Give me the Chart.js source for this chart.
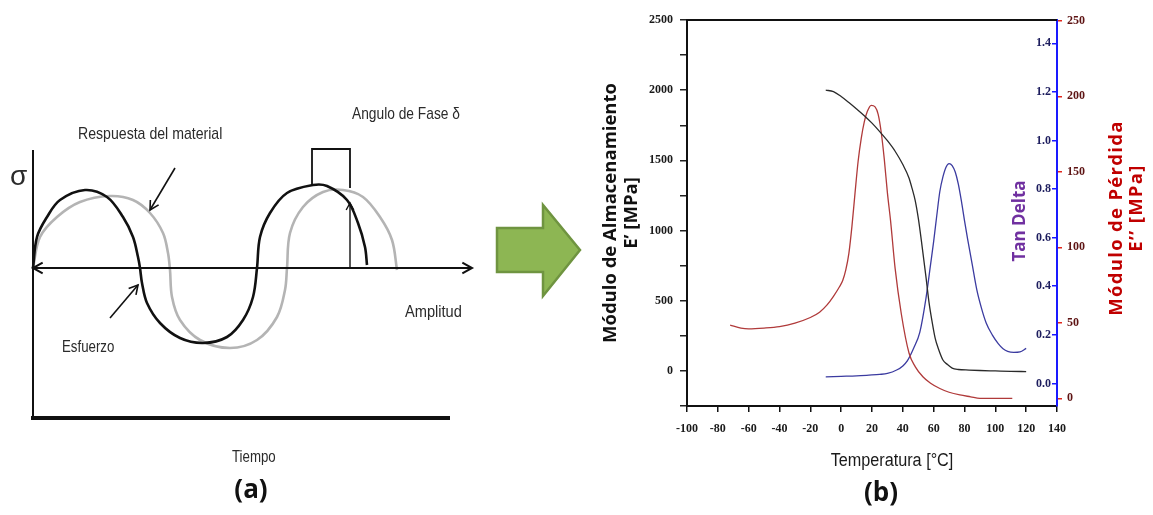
<!DOCTYPE html>
<html lang="es">
<head>
<meta charset="utf-8">
<title>Esfuerzo y DMA</title>
<script src="https://cdn.jsdelivr.net/npm/chart.js@4.4.1/dist/chart.umd.min.js"></script>
<style>
  html, body { margin: 0; padding: 0; background: #fff; }
  body { width: 1153px; height: 515px; position: relative; overflow: hidden; }
  .panel { position: absolute; top: 0; height: 515px; }
  #panelA { left: 0; width: 590px; }
  #panelB { left: 590px; width: 563px; }
</style>
</head>
<body>
<div class="panel" id="panelA"><canvas id="waveChart"></canvas></div>
<div class="panel" id="panelB"><canvas id="dmaChart"></canvas></div>
<script>
// (a) esquema: esfuerzo aplicado y respuesta del material (unidades arbitrarias)
const stressTime = [0, 0.4, 1.4, 2.7, 5.2, 7.4, 9.0, 10.0, 10.5, 10.7, 10.9, 11.4, 12.7, 14.7, 17.0, 19.4, 21.0, 22.0, 22.4, 22.7, 23.7, 25.4, 28.0, 29.4, 31.4, 32.5, 33.2, 33.4];
const stressAmp = [0, 3.1, 5.1, 6.8, 7.8, 7.1, 5.1, 3.1, 1.1, 0, -1.5, -3.5, -5.5, -7.0, -7.5, -6.9, -5.2, -2.9, 0, 3.1, 5.5, 7.5, 8.3, 8.2, 6.8, 4.5, 2.1, 0.3];
const responseTime = [0, 0.7, 2.4, 4.7, 7.7, 10.0, 11.7, 13.0, 13.5, 13.7, 13.9, 14.7, 16.7, 19.7, 22.4, 24.4, 25.2, 25.4, 25.7, 27.0, 29.0, 31.0, 33.0, 34.7, 35.9, 36.4];
const responseAmp = [0, 3.1, 5.1, 6.6, 7.2, 6.8, 5.5, 3.5, 1.5, -0.2, -2.9, -5.2, -7.2, -8.0, -7.2, -4.9, -2.2, 0, 3.5, 6.1, 7.6, 7.8, 7.1, 5.1, 2.8, -0.2];

// (b) DMA: modulo de almacenamiento, modulo de perdida y tan delta vs temperatura
const tempStorage = [-10, -5, 0, 5, 10, 15, 20, 25, 30, 35, 40, 44, 46, 48, 50, 52, 55, 57, 59, 61, 63, 66, 69, 72, 76, 83, 90, 100, 110, 120];
const storageModulus = [2000, 1990, 1955, 1912, 1866, 1818, 1765, 1705, 1640, 1565, 1470, 1375, 1300, 1215, 1090, 930, 670, 487, 350, 232, 160, 78, 45, 20, 10, 6, 3, 0, -3, -5];
const tempLoss = [-72, -65, -60, -50, -40, -30, -20, -14, -9, -5, -1, 1, 3, 5, 7, 9, 11, 13, 15, 17, 19.5, 22, 24, 26, 28, 30, 32, 35, 39, 44, 48, 53, 58, 64, 70, 77, 84, 90, 100, 111];
const lossModulus = [48.5, 46.5, 46, 46.5, 47.5, 49.8, 53.5, 57, 62, 67.5, 74, 78, 85, 96, 114, 136, 157, 172, 183, 190, 194, 193, 188, 176, 158, 136, 118, 86, 56, 30, 21, 14.3, 10, 6.5, 4, 2.2, 1, 0, 0, 0];
const tempTan = [-10, 0, 10, 18, 25, 30, 36, 40, 43, 47, 51, 55, 58, 60, 62, 64, 66, 68, 70, 72, 74, 76, 78, 80, 82, 85, 88, 91, 94, 98, 102, 105, 108, 112, 116, 120];
const tanDelta = [0.027, 0.029, 0.031, 0.034, 0.037, 0.041, 0.055, 0.072, 0.094, 0.145, 0.21, 0.35, 0.49, 0.585, 0.69, 0.79, 0.85, 0.89, 0.905, 0.897, 0.87, 0.82, 0.75, 0.67, 0.595, 0.49, 0.385, 0.31, 0.25, 0.2, 0.163, 0.143, 0.132, 0.128, 0.13, 0.144];

// ticks
const tempTicks = [-100, -80, -60, -40, -20, 0, 20, 40, 60, 80, 100, 120, 140];
const storageTicks = [0, 500, 1000, 1500, 2000, 2500];
const storageMinorTicks = [-250, 250, 750, 1250, 1750, 2250];
const tanTicks = [0.0, 0.2, 0.4, 0.6, 0.8, 1.0, 1.2, 1.4];
const lossTicks = [0, 50, 100, 150, 200, 250];

const zip = (xs, ys) => xs.map((x, i) => ({ x: x, y: ys[i] }));

const sansFont = '"Liberation Sans", sans-serif';
const serifFont = '"Liberation Serif", "Times New Roman", serif';
const boldSans = '"Open Sans", "Liberation Sans", sans-serif';

function line(ctx, x1, y1, x2, y2) {
    ctx.beginPath();
    ctx.moveTo(x1, y1);
    ctx.lineTo(x2, y2);
    ctx.stroke();
}

function arrowHead(ctx, x1, y1, x2, y2, size) {
    const ang = Math.atan2(y2 - y1, x2 - x1);
    ctx.beginPath();
    ctx.moveTo(x2 - size * Math.cos(ang - 0.5), y2 - size * Math.sin(ang - 0.5));
    ctx.lineTo(x2, y2);
    ctx.lineTo(x2 - size * Math.cos(ang + 0.5), y2 - size * Math.sin(ang + 0.5));
    ctx.stroke();
}

// narrow text (Calibri-like look) by squeezing a regular sans horizontally
function narrowText(ctx, text, x, y, sx) {
    ctx.save();
    ctx.translate(x, y);
    ctx.scale(sx, 1);
    ctx.fillText(text, 0, 0);
    ctx.restore();
}

function vText(ctx, text, x, y, color, font, spacing) {
    ctx.save();
    ctx.translate(x, y);
    ctx.rotate(-Math.PI / 2);
    ctx.font = font;
    if (spacing) ctx.letterSpacing = spacing;
    ctx.fillStyle = color;
    ctx.textAlign = 'center';
    ctx.textBaseline = 'middle';
    ctx.fillText(text, 0, 0);
    ctx.restore();
}

// Extras for panel (a): axes, arrows, phase bracket, labels, green arrow
const schemePlugin = {
    id: 'scheme',
    afterDatasetsDraw(chart) {
        const ctx = chart.ctx;
        const px = t => chart.scales.x.getPixelForValue(t);
        const py = a => chart.scales.y.getPixelForValue(a);
        ctx.save();
        ctx.strokeStyle = '#111';
        ctx.lineWidth = 2;
        line(ctx, px(0), py(11.8), px(0), py(-15.0));
        ctx.lineWidth = 4;
        line(ctx, px(-0.2), py(-15.0), px(41.7), py(-15.0));

        // amplitude axis, arrow on both ends
        ctx.lineWidth = 2;
        line(ctx, px(0), py(0), px(43.9), py(0));
        arrowHead(ctx, px(5), py(0), px(0), py(0), 11);
        arrowHead(ctx, px(40), py(0), px(43.9), py(0), 11);

        // pointers to the curves
        ctx.lineWidth = 1.6;
        line(ctx, px(14.2), py(10.0), px(11.7), py(5.8));
        arrowHead(ctx, px(14.2), py(10.0), px(11.7), py(5.8), 10);
        line(ctx, px(7.7), py(-5.0), px(10.5), py(-1.7));
        arrowHead(ctx, px(7.7), py(-5.0), px(10.5), py(-1.7), 10);

        // phase angle bracket
        ctx.lineWidth = 1.8;
        ctx.beginPath();
        ctx.moveTo(px(27.9), py(8.2));
        ctx.lineTo(px(27.9), py(11.9));
        ctx.lineTo(px(31.7), py(11.9));
        ctx.lineTo(px(31.7), py(8.0));
        ctx.stroke();
        ctx.lineWidth = 1.4;
        line(ctx, px(31.7), py(0), px(31.7), py(6.5));
        arrowHead(ctx, px(31.7), py(0), px(31.7), py(6.5), 8);

        // labels
        ctx.fillStyle = '#2b2b2b';
        ctx.textBaseline = 'middle';
        ctx.textAlign = 'left';
        ctx.font = '28px ' + sansFont;
        ctx.fillText('σ', 10, 177);
        ctx.font = '17px ' + sansFont;
        narrowText(ctx, 'Respuesta del material', 78, 134, 0.83);
        narrowText(ctx, 'Angulo de Fase δ', 352, 114, 0.81);
        narrowText(ctx, 'Amplitud', 405, 312, 0.86);
        narrowText(ctx, 'Esfuerzo', 62, 347, 0.78);
        narrowText(ctx, 'Tiempo', 232, 457, 0.78);
        ctx.textAlign = 'center';
        ctx.fillStyle = '#111';
        ctx.font = 'bold 26px ' + boldSans;
        ctx.fillText('(a)', 251, 491);

        // green arrow between panels
        ctx.beginPath();
        ctx.moveTo(497, 228);
        ctx.lineTo(543, 228);
        ctx.lineTo(543, 205);
        ctx.lineTo(580, 250);
        ctx.lineTo(543, 296);
        ctx.lineTo(543, 272);
        ctx.lineTo(497, 272);
        ctx.closePath();
        ctx.fillStyle = '#8db653';
        ctx.fill();
        ctx.strokeStyle = '#6f9440';
        ctx.lineWidth = 2.5;
        ctx.lineJoin = 'miter';
        ctx.stroke();
        ctx.restore();
    }
};

new Chart(document.getElementById('waveChart'), {
    type: 'scatter',
    data: {
        datasets: [{
            label: 'Esfuerzo',
            data: zip(stressTime, stressAmp),
            showLine: true,
            borderColor: '#111',
            borderWidth: 2.6,
            pointRadius: 0,
            tension: 0.35
        }, {
            label: 'Respuesta del material',
            data: zip(responseTime, responseAmp),
            showLine: true,
            borderColor: '#b4b4b4',
            borderWidth: 2.6,
            pointRadius: 0,
            tension: 0.35
        }]
    },
    options: {
        responsive: true,
        maintainAspectRatio: false,
        animation: false,
        layout: { padding: 0 },
        plugins: { legend: { display: false }, tooltip: { enabled: false } },
        scales: {
            x: { type: 'linear', display: false, min: -3.3, max: 55.7 },
            y: { display: false, min: -24.7, max: 26.8 }
        }
    },
    plugins: [schemePlugin]
});

// Extras for panel (b): top frame line, titles, panel label
const dmaPlugin = {
    id: 'dmaExtras',
    afterDraw(chart) {
        const ctx = chart.ctx;
        const area = chart.chartArea;
        ctx.save();
        ctx.strokeStyle = '#111';
        ctx.lineWidth = 2;
        line(ctx, area.left, area.top, area.right, area.top);
        vText(ctx, 'Tan Delta', area.right - 37, 221, '#7030a0', 'bold 17px ' + boldSans);
        vText(ctx, 'Módulo de Pérdida', area.right + 60, 218, '#c00000', 'bold 18.5px ' + boldSans, '1.3px');
        vText(ctx, 'E’’ [MPa]', area.right + 80, 208, '#c00000', 'bold 18.5px ' + boldSans, '1.3px');
        ctx.fillStyle = '#1a1a1a';
        ctx.textAlign = 'center';
        ctx.textBaseline = 'middle';
        ctx.font = '18px ' + sansFont;
        ctx.save();
        ctx.translate(302, 461);
        ctx.scale(0.9, 1);
        ctx.fillText('Temperatura [°C]', 0, 0);
        ctx.restore();
        ctx.fillStyle = '#111';
        ctx.font = 'bold 26px ' + boldSans;
        ctx.fillText('(b)', 291, 494);
        ctx.restore();
    }
};

const tickFont = { family: serifFont, weight: 'bold', size: 12 };

new Chart(document.getElementById('dmaChart'), {
    type: 'line',
    data: {
        datasets: [{
            label: 'E’',
            data: zip(tempStorage, storageModulus),
            yAxisID: 'y',
            borderColor: '#2a2a2a',
            borderWidth: 1.3,
            pointRadius: 0,
            cubicInterpolationMode: 'monotone'
        }, {
            label: 'E’’',
            data: zip(tempLoss, lossModulus),
            yAxisID: 'yLoss',
            borderColor: '#b03a3a',
            borderWidth: 1.3,
            pointRadius: 0,
            cubicInterpolationMode: 'monotone'
        }, {
            label: 'Tan Delta',
            data: zip(tempTan, tanDelta),
            yAxisID: 'yTan',
            borderColor: '#3b3ba0',
            borderWidth: 1.3,
            pointRadius: 0,
            cubicInterpolationMode: 'monotone'
        }]
    },
    options: {
        responsive: true,
        maintainAspectRatio: false,
        animation: false,
        layout: { padding: { top: 20, left: 0, right: 0, bottom: 0 } },
        plugins: { legend: { display: false }, tooltip: { enabled: false } },
        scales: {
            x: {
                type: 'linear',
                min: -100,
                max: 140,
                afterBuildTicks: s => { s.ticks = tempTicks.map(v => ({ value: v })); },
                afterFit: s => { s.height = 109; },
                border: { color: '#111', width: 2 },
                grid: { drawOnChartArea: false, tickLength: 6, color: '#111', lineWidth: 1.5 },
                ticks: { color: '#1a1a1a', font: tickFont, padding: 10, maxRotation: 0, autoSkip: false }
            },
            y: {
                position: 'left',
                min: -250,
                max: 2500,
                afterBuildTicks: s => {
                    s.ticks = storageTicks.concat(storageMinorTicks).sort((a, b) => a - b).map(v => ({ value: v }));
                },
                afterFit: s => { s.width = 97; },
                border: { color: '#111', width: 2 },
                grid: { drawOnChartArea: false, tickLength: 7, color: '#222', lineWidth: 1.5 },
                ticks: {
                    color: '#1a1a1a',
                    font: tickFont,
                    padding: 7,
                    callback: v => storageTicks.includes(v) ? String(v) : ''
                },
                title: {
                    display: true,
                    text: ['Módulo de Almacenamiento', 'E’ [MPa]'],
                    color: '#111',
                    font: { family: boldSans, weight: 'bold', size: 18.5, lineHeight: 1.1 },
                    padding: { top: 11, bottom: 0 }
                }
            },
            yTan: {
                position: 'right',
                min: -0.093,
                max: 1.496,
                afterBuildTicks: s => { s.ticks = tanTicks.map(v => ({ value: v })); },
                afterFit: s => { s.width = 0; },
                border: { color: '#1a1aff', width: 2 },
                grid: { drawOnChartArea: false, tickLength: -5, color: '#1a1aff', lineWidth: 1.5 },
                ticks: {
                    mirror: true,
                    padding: -6,
                    color: '#1d1d5e',
                    font: tickFont,
                    callback: v => v.toFixed(1)
                }
            },
            yLoss: {
                position: 'right',
                min: -5.1,
                max: 250.5,
                afterBuildTicks: s => { s.ticks = lossTicks.map(v => ({ value: v })); },
                afterFit: s => { s.width = 96; },
                border: { display: false },
                grid: { drawOnChartArea: false, tickLength: 5, color: '#e0281e', lineWidth: 1.5 },
                ticks: { padding: 5, color: '#5e1414', font: tickFont }
            }
        }
    },
    plugins: [dmaPlugin]
});
</script>
</body>
</html>
